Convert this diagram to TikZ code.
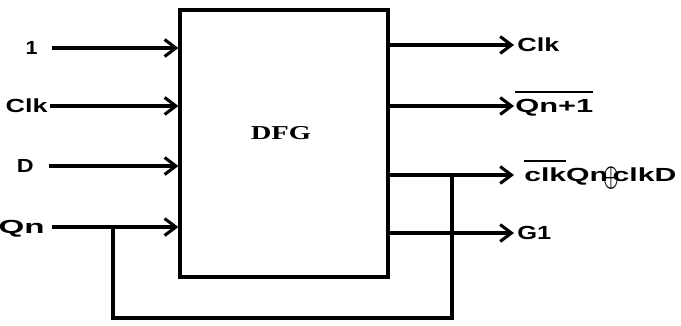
\documentclass[tikz,border=0pt]{standalone}
\usepackage{fontspec}
\usepackage{graphicx}
\usetikzlibrary{arrows.meta}
\newfontfamily\lblfont{Liberation Sans}
\newfontfamily\boxfont[FakeStretch=1.45]{Liberation Serif}
% bar over a piece of text
\newcommand\olbar[1]{\setbox0\hbox{#1}\rlap{\raisebox{\dimexpr\ht0+4pt}{\rule{\wd0}{1.4pt}}}\box0}

\begin{document}
\begin{tikzpicture}[x=0.025cm,y=-0.025cm,
        lbl/.style={font=\lblfont\bfseries\fontsize{13.5}{15}\selectfont, inner sep=0pt},
        wire/.style={line width=2.2pt},
        arr/.style={wire,-{Straight Barb[length=8pt,width=12pt,line width=2.2pt]}}]
    \useasboundingbox (0,0) rectangle (681,325);
    \node[draw,wire,minimum width=5.2cm,minimum height=6.675cm] (dfg) at (284,143.5) {};
    \node[font=\boxfont\bfseries\fontsize{14}{16}\selectfont] (dfgname) at (281,133) {DFG};
    % inputs
    \foreach \t/\w/\y/\lx/\sx/\n in {1/0.3/48/38/52/a, Clk/1.05/106/48/50/b, D/0.42/166/34/49/c, Qn/1.15/227/45/52/d}{
        \node[lbl,anchor=base east] (in\n) at (\lx,\y+6) {\resizebox{\w cm}{\height}{\t}};
        \coordinate (s\n) at (\sx,\y);
        \draw[arr] (s\n) -- (s\n -| dfg.west);
    }
    % outputs
    \foreach \t/\w/\y/\lx/\n in {Clk/1.05/45/517/a, \olbar{Qn+1}/1.95/106/515/b,
        {\olbar{clk}Qn\kern-2pt\raisebox{-3.5pt}{\scalebox{0.55}[1.45]{\boldmath$\oplus$}}\kern-3pt clkD}/3.8/175/524/c, G1/0.85/233/517/d}{
        \coordinate (e\n) at (514,\y);
        \node[lbl,anchor=base west] (out\n) at (\lx,\y+6) {\resizebox{\w cm}{\height}{\t}};
        \draw[arr] (e\n -| dfg.east) -- (e\n);
    }
    % feedback
    \coordinate (fa) at (452,318);
    \coordinate (fb) at (113,318);
    \draw[wire] (fa |- ec) -- (fa) -- (fb) -- (fb |- sd);
\end{tikzpicture}
\end{document}
